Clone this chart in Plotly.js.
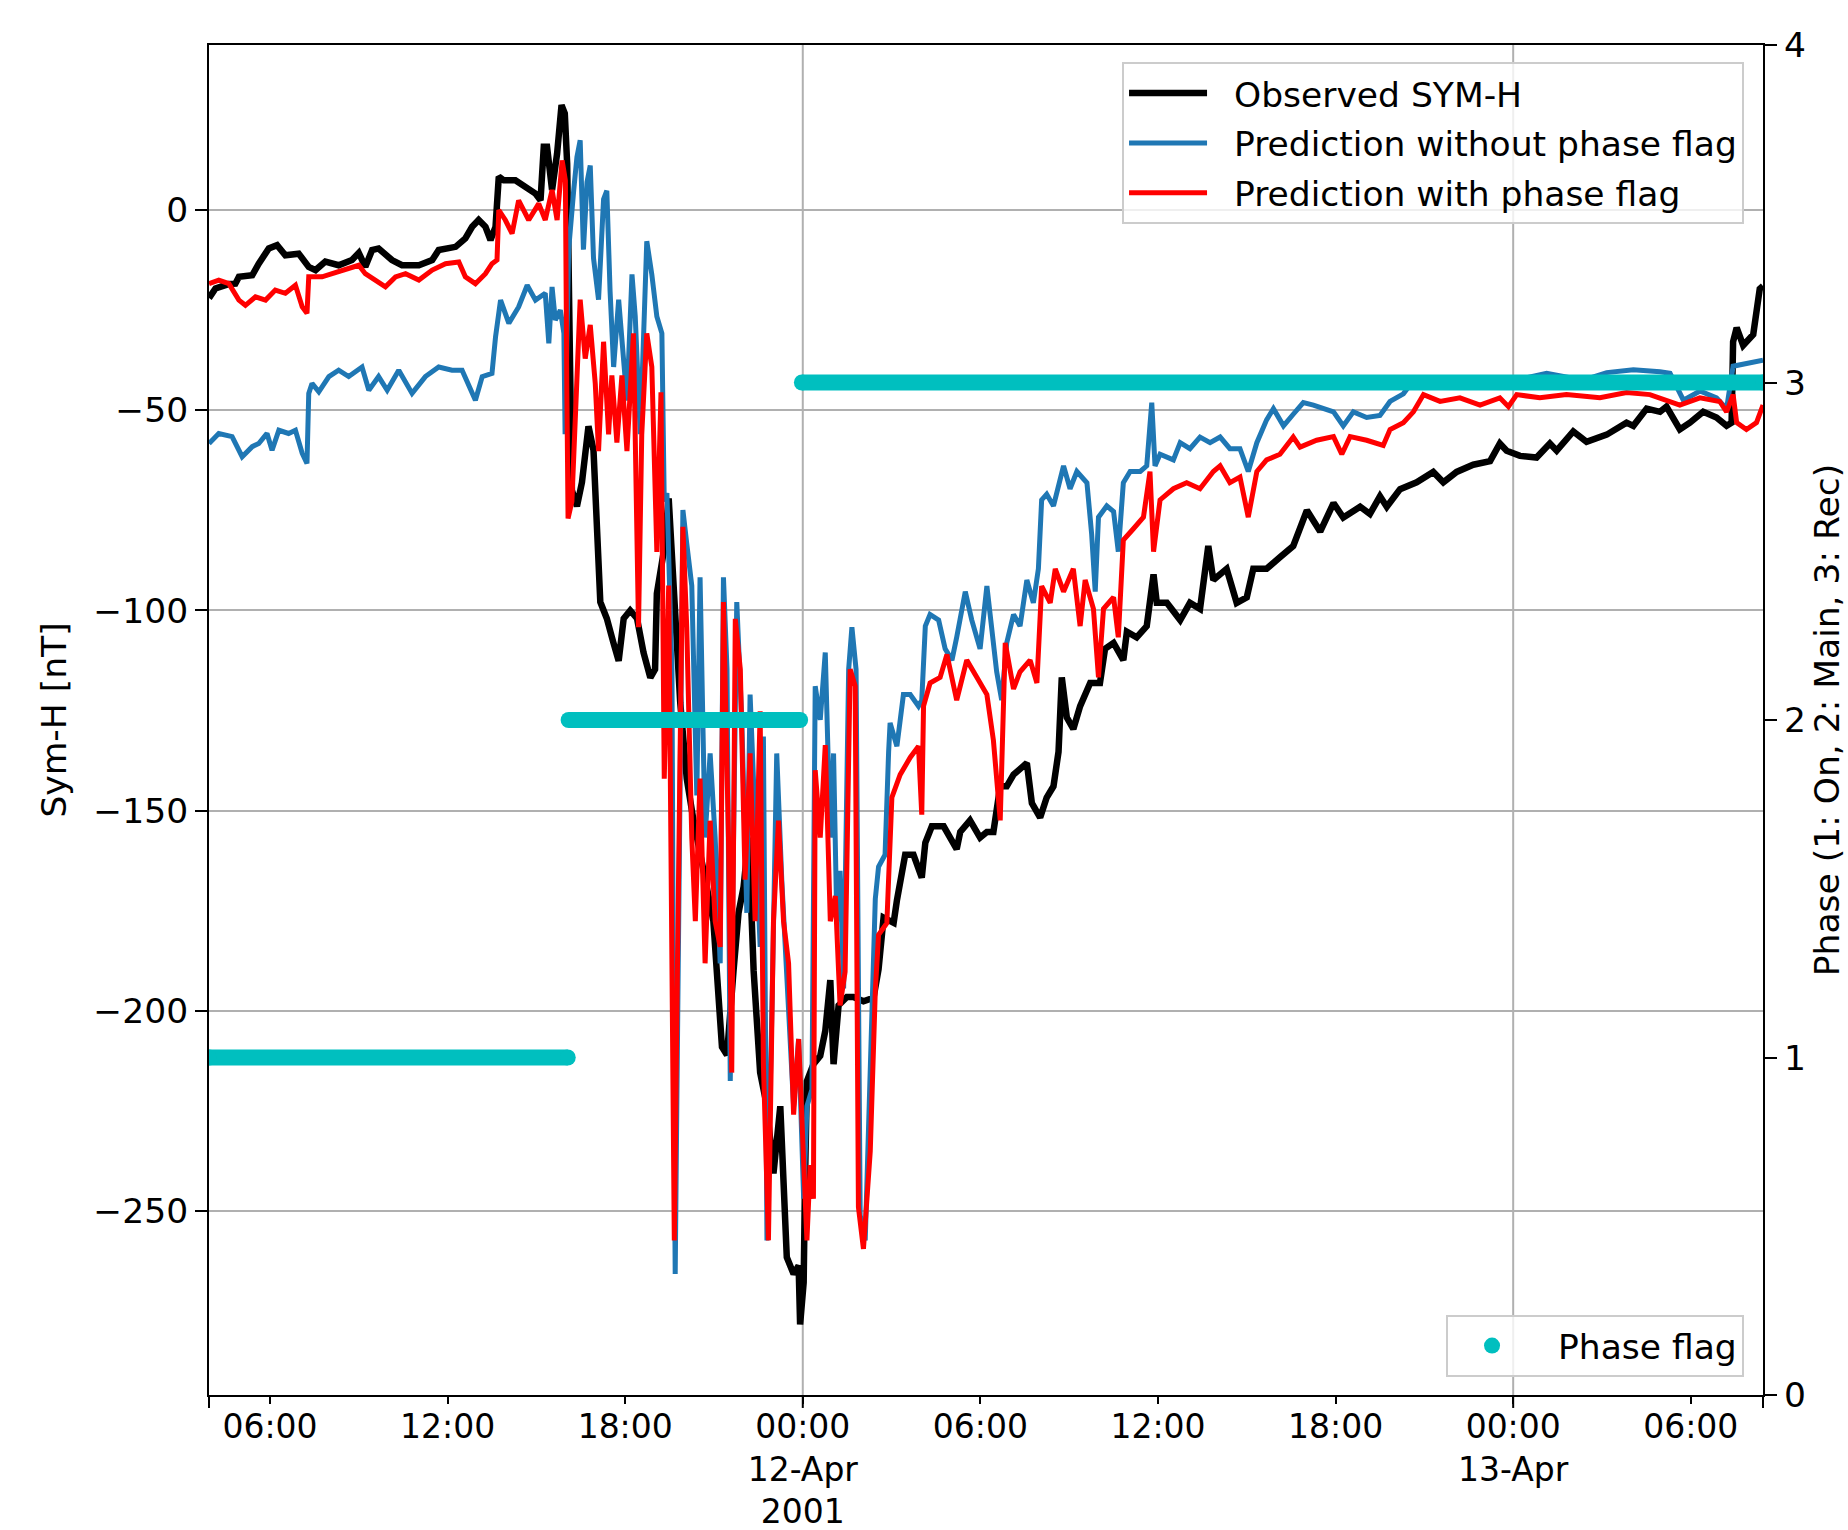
<!DOCTYPE html>
<html>
<head>
<meta charset="utf-8">
<script src="https://cdn.plot.ly/plotly-3.0.1.min.js"></script>
<style>html,body{margin:0;padding:0;background:#fff;}#chart{width:1848px;height:1530px;}</style>
</head>
<body>
<div id="chart"></div>
<script>
// ---- DATA (hours since 2001-04-11 00:00 UT, values in nT) ----
const obsHours = [3.94,4.0,4.16,4.6,4.83,4.95,5.4,5.62,5.96,6.24,6.52,6.97,7.31,7.54,7.87,8.32,8.77,9.0,9.22,9.45,9.67,10.12,10.46,11.03,11.48,11.7,12.27,12.6,12.83,13.05,13.28,13.45,13.62,13.73,13.9,14.29,14.63,14.97,15.14,15.25,15.36,15.53,15.7,15.85,15.96,16.04,16.12,16.2,16.37,16.54,16.76,16.93,17.16,17.38,17.6,17.78,17.95,18.17,18.4,18.62,18.85,19.01,19.07,19.3,19.47,19.63,19.86,20.08,20.31,20.65,20.98,21.27,21.44,21.66,21.83,22.0,22.17,22.34,22.56,22.79,23.01,23.24,23.46,23.69,23.86,23.91,24.03,24.08,24.14,24.36,24.59,24.76,24.93,25.04,25.21,25.49,25.71,26.05,26.39,26.56,26.73,27.07,27.18,27.46,27.74,28.02,28.14,28.36,28.76,29.2,29.32,29.65,29.99,30.22,30.44,30.67,30.89,31.12,31.57,31.74,32.02,32.24,32.47,32.64,32.75,32.92,33.14,33.37,33.71,34.04,34.21,34.5,34.83,34.95,35.28,35.62,35.85,35.96,36.3,36.75,37.08,37.42,37.7,37.87,38.1,38.32,38.66,39.0,39.22,39.67,40.12,40.57,41.03,41.48,41.93,42.26,42.83,43.16,43.5,43.73,44.18,44.74,45.3,45.64,46.09,46.65,47.22,47.55,47.78,48.23,48.79,49.24,49.47,50.03,50.48,51.16,51.83,52.06,52.51,52.96,53.18,53.63,53.97,54.42,54.87,55.21,55.38,55.43,55.55,55.77,56.11,56.33,56.44];
const obsValues = [-22,-21.5,-19.6,-18.5,-18.4,-16.7,-16.3,-13.4,-9.6,-8.8,-11.3,-10.9,-14.2,-15.0,-12.9,-13.8,-12.5,-10.7,-14.2,-10.0,-9.6,-12.5,-13.8,-13.8,-12.5,-10.0,-9.2,-7.1,-4.2,-2.5,-4.2,-7.5,-4.2,8.3,7.4,7.4,5.8,4.1,2.4,15.8,15.8,5.0,14.1,26.2,24.1,11.6,-30,-70,-74,-68,-54,-60,-97.9,-102,-108,-112.6,-102,-100,-102,-110.5,-116.8,-114.7,-95.8,-85.4,-72,-93.8,-123,-142,-152.5,-165,-177.6,-209,-211,-190,-175.5,-169,-156.7,-190,-215.4,-223.8,-240.6,-223.8,-261.5,-265.7,-263.6,-278.3,-267.8,-240.6,-217.5,-213.3,-211.2,-205,-192.3,-213.3,-198.6,-196.5,-196.5,-197.6,-196.7,-189.6,-176.7,-178,-172.4,-161,-161,-166.7,-158,-153.9,-153.9,-159.6,-155.3,-152.4,-156.7,-155.3,-155.3,-143.9,-143.9,-141,-138.1,-148.1,-151.7,-146.7,-143.9,-135.3,-116.7,-126.7,-129.6,-123.9,-118.1,-118.1,-109.6,-108.1,-112.4,-105.3,-106.7,-103.9,-91,-98.1,-98.1,-102.4,-98.1,-99.6,-83.9,-92.4,-91,-89.6,-98.1,-96.7,-89.6,-89.6,-86.7,-83.9,-75,-80.3,-73.2,-76.8,-74.1,-75.9,-71.5,-74.1,-69.7,-68,-65.4,-68,-65.4,-63.6,-62.7,-58.3,-60.1,-61.4,-61.8,-58.3,-60.1,-55.3,-57.9,-56.1,-53.1,-53.9,-49.6,-50.4,-49.1,-54.8,-53.1,-50.4,-51.8,-53.9,-53.1,-32.9,-29.4,-33.8,-31.1,-19.7,-19];

const noFlagHours = [3.94,4.27,4.72,5.06,5.4,5.62,5.9,6.07,6.3,6.63,6.86,7.09,7.25,7.31,7.42,7.65,7.99,8.32,8.66,9.11,9.34,9.67,9.96,10.35,10.8,11.25,11.7,12.15,12.49,12.72,12.94,13.17,13.5,13.62,13.79,14.07,14.4,14.69,14.97,15.3,15.42,15.53,15.64,15.81,15.93,15.97,16.09,16.26,16.37,16.48,16.59,16.71,16.82,16.93,17.1,17.27,17.38,17.49,17.61,17.78,17.89,18.06,18.23,18.34,18.51,18.73,18.9,19.07,19.24,19.32,19.41,19.58,19.63,19.69,19.75,19.86,19.95,20.08,20.25,20.42,20.53,20.7,20.87,21.04,21.21,21.32,21.44,21.55,21.66,21.77,21.94,22.11,22.22,22.39,22.56,22.67,22.79,22.96,23.12,23.29,23.46,23.69,23.86,24.03,24.14,24.31,24.42,24.59,24.76,24.93,25.04,25.15,25.26,25.38,25.55,25.66,25.8,25.94,26.11,26.28,26.45,26.56,26.78,26.9,26.95,27.18,27.4,27.63,27.91,28.02,28.14,28.3,28.59,28.81,29.04,29.2,29.49,29.71,29.99,30.22,30.39,30.55,30.72,30.89,31.12,31.34,31.57,31.79,31.96,32.07,32.24,32.47,32.81,33.03,33.26,33.6,33.76,33.88,33.99,34.27,34.5,34.66,34.83,35.06,35.4,35.62,35.79,35.9,36.07,36.52,36.75,37.08,37.42,37.76,38.1,38.43,38.77,39.05,39.34,39.67,39.9,40.24,40.57,40.91,41.25,41.93,42.26,42.6,43.05,43.5,43.84,44.29,44.63,45.3,46.43,47.55,49.13,50.37,51.16,52.06,52.96,53.3,53.75,54.31,54.87,55.21,55.43,55.88,56.44];
const noFlagValues = [-58.3,-55.8,-56.6,-61.6,-59.1,-58.3,-55.8,-60,-55,-55.8,-55,-60.8,-63.3,-45.8,-43.3,-45.4,-41.6,-40,-41.6,-39.2,-45,-41.6,-45,-40,-45.8,-41.6,-39.2,-40,-40,-44.1,-47.5,-41.6,-40.8,-31.7,-22.5,-28.3,-24.2,-18.8,-22.5,-20.8,-33.3,-19.2,-27.5,-25,-30.8,-56,-9.9,4.8,13.2,17.4,-9.9,6.9,11.1,-12,-22.4,2.7,4.8,-20.3,-39.2,-22.4,-32.9,-47.6,-16.1,-26.6,-56,-7.8,-16.1,-26.6,-30.8,-72.8,-70.7,-114.7,-198.6,-265.7,-219.6,-135.7,-74.9,-83.3,-93.8,-146.2,-91.7,-156.7,-135.7,-156.7,-188.1,-91.7,-114.7,-217.5,-156.7,-97.9,-127.3,-175.5,-121,-156.7,-184,-131.5,-257.3,-198.6,-135.7,-167.2,-190.2,-223.8,-207,-246.9,-223.8,-219.6,-118.9,-127.3,-110.5,-156.7,-135.7,-177.6,-165,-194.4,-114.7,-104.2,-114.7,-251,-257.3,-210,-172,-164,-161,-135.3,-128.1,-133.9,-121,-121,-123.9,-122.4,-103.9,-101,-102.4,-109.6,-112.4,-106.7,-95.3,-102.4,-109.6,-93.9,-103.9,-115.3,-122.4,-108.1,-101,-103.9,-92.4,-98.1,-89.6,-72.4,-71,-73.9,-63.9,-69.6,-65.3,-68.1,-81,-95.3,-76.7,-73.9,-75.3,-85.3,-68.1,-65.3,-65.3,-63.9,-48.1,-63.9,-61,-62.4,-58.1,-59.6,-56.7,-58.1,-56.7,-59.6,-59.6,-65.3,-58.1,-52.4,-49.6,-53.9,-51,-48.1,-48.7,-50.4,-53.9,-50.4,-51.8,-51.3,-47.8,-45.9,-42.5,-43.4,-43.9,-43.4,-40.8,-42.5,-40.6,-39.9,-40.4,-40.8,-47.5,-45.2,-46.9,-49.6,-39,-38.2,-37.5];

const flagHours = [3.94,4.27,4.61,4.95,5.17,5.51,5.85,6.18,6.52,6.86,7.09,7.25,7.31,7.76,8.1,8.55,9.0,9.22,9.56,9.9,10.24,10.58,11.03,11.48,11.93,12.38,12.6,12.94,13.28,13.5,13.67,13.73,13.95,14.18,14.4,14.74,15.08,15.3,15.53,15.7,15.87,15.98,16.03,16.07,16.2,16.37,16.48,16.65,16.82,16.99,17.1,17.27,17.44,17.55,17.72,17.89,18.06,18.28,18.45,18.56,18.73,18.9,19.07,19.21,19.32,19.47,19.58,19.66,19.75,19.84,19.95,20.08,20.25,20.37,20.53,20.7,20.87,21.04,21.21,21.32,21.49,21.6,21.72,21.89,22.05,22.22,22.39,22.56,22.67,22.84,23.01,23.18,23.35,23.52,23.69,23.86,24.03,24.14,24.25,24.36,24.42,24.59,24.76,24.93,25.1,25.26,25.43,25.6,25.77,25.88,26.05,26.28,26.45,26.56,26.84,27.01,27.29,27.63,27.91,28.02,28.08,28.3,28.64,28.87,29.2,29.54,29.88,30.22,30.44,30.67,30.84,31.12,31.34,31.68,31.91,32.07,32.36,32.53,32.81,33.14,33.37,33.54,33.82,33.99,34.16,34.5,34.66,34.83,35.17,35.51,35.73,35.85,36.07,36.52,36.97,37.42,37.87,38.1,38.43,38.77,39.05,39.34,39.67,40.12,40.57,40.8,41.36,41.93,42.21,42.49,43.05,43.61,43.84,44.29,44.63,44.97,45.53,46.2,46.88,47.55,47.84,48.12,48.9,49.8,50.93,51.83,52.62,53.63,54.31,54.98,55.21,55.43,55.55,55.88,56.22,56.44];
const flagValues = [-18.4,-17.5,-18.4,-22.5,-23.8,-21.7,-22.5,-20,-20.8,-18.8,-24.2,-25.8,-16.7,-16.7,-15.9,-15,-13.8,-15.9,-17.5,-19.2,-16.7,-15.9,-17.5,-15,-13.4,-13,-16.7,-18.4,-15.9,-13.4,-12.5,0,-2.5,-5.9,2.4,-2.5,1.6,-2.5,5,-2.5,12.4,7.4,-45,-77,-72.8,-41.3,-22.4,-37.1,-28.7,-43.4,-60.2,-32.9,-56,-41.3,-58.1,-41.3,-60.2,-30.8,-104.2,-56,-30.8,-39.2,-85.4,-45.5,-142,-93.8,-198.6,-257.3,-198.6,-135.7,-79.1,-104.2,-156.7,-177.6,-142,-188.1,-152.5,-177.6,-184,-97.9,-156.7,-215.4,-102.1,-114.7,-167.2,-135.7,-177.6,-125.2,-213.3,-257.3,-177.6,-152.5,-177.6,-188.1,-225.9,-207,-236.4,-257.3,-238.5,-246.9,-139.9,-156.7,-133.6,-177.6,-171.3,-198.6,-190.2,-114.7,-118.9,-249,-259.4,-235,-195,-181,-178.1,-146.7,-141,-136.7,-133.9,-151,-123.9,-118.1,-116.7,-111,-122.4,-112.4,-116.7,-121,-132.4,-152.4,-108.1,-119.6,-115.3,-112.4,-118.1,-93.9,-98.1,-89.6,-95.3,-89.6,-103.9,-92.4,-99.6,-116.7,-99.6,-96.7,-106.7,-82.4,-79.6,-76.7,-65.3,-85.3,-72.4,-69.6,-68.1,-69.6,-65.3,-63.9,-68.1,-66.7,-76.7,-65.3,-62.4,-61,-56.7,-59.2,-57.5,-56.6,-61,-56.6,-57.5,-58.8,-54.8,-53.1,-50.4,-46.1,-47.8,-46.9,-48.7,-46.9,-49.1,-46.1,-46.9,-46.1,-46.9,-45.6,-46.1,-48.7,-46.9,-47.8,-50.4,-46.1,-53.1,-54.8,-53.1,-48.7];

// storm phase flag: 1 onset, 2 main, 3 recovery
const phaseStartHours = [3.94, 16.09, 23.97];
const phaseEndHours   = [16.06, 23.91, 56.44];
const phaseValues     = [1, 2, 3];

// axis extents and ticks
const xRangeHours = [3.94, 56.44];
const symhRange = [-295.9, 41.2];
const phaseRange = [0, 4];
const symhTicks = [-250, -200, -150, -100, -50, 0];
const phaseTicks = [0, 1, 2, 3, 4];
const timeTickHours = [6, 12, 18, 24, 30, 36, 42, 48, 54];
const timeTickLabels = ['06:00', '12:00', '18:00', '00:00<br>12-Apr<br>2001', '06:00', '12:00', '18:00', '00:00<br>13-Apr', '06:00'];
const dayBoundaryHours = [24, 48];

// ---- helpers ----
const baseMs = Date.UTC(2001, 3, 11, 0, 0, 0);
function toDate(h) {
  const d = new Date(baseMs + Math.round(h * 3600) * 1000);
  return d.toISOString().slice(0, 19).replace('T', ' ');
}
const dates = arr => arr.map(toDate);

const phaseX = [], phaseY = [];
for (let i = 0; i < phaseValues.length; i++) {
  phaseX.push(toDate(phaseStartHours[i]), toDate(phaseEndHours[i]), null);
  phaseY.push(phaseValues[i], phaseValues[i], null);
}

const FONT = 'DejaVu Sans, Verdana, sans-serif';
const FS = 34.5;
const CYAN = '#00bfbf';
const GAP = '\u00A0\u00A0'; // visual gap between legend sample and label

const traces = [
  {x: dates(obsHours), y: obsValues, type: 'scatter', mode: 'lines', name: GAP + 'Observed SYM-H',
   line: {color: '#000000', width: 6.5}, yaxis: 'y', legend: 'legend', legendgroup: 'g1'},
  {x: dates(noFlagHours), y: noFlagValues, type: 'scatter', mode: 'lines', name: GAP + 'Prediction without phase flag',
   line: {color: '#1f77b4', width: 5}, yaxis: 'y', legend: 'legend', legendgroup: 'g2'},
  {x: dates(flagHours), y: flagValues, type: 'scatter', mode: 'lines', name: GAP + 'Prediction with phase flag',
   line: {color: '#ff0000', width: 5}, yaxis: 'y', legend: 'legend', legendgroup: 'g3'},
  {x: phaseX, y: phaseY, type: 'scatter', mode: 'lines', name: 'Phase flag band',
   line: {color: CYAN, width: 16}, yaxis: 'y2', showlegend: false, hoverinfo: 'skip'},
  {x: phaseX, y: phaseY, type: 'scatter', mode: 'markers', name: GAP + 'Phase flag',
   marker: {color: CYAN, size: 16}, yaxis: 'y2', legend: 'legend2'}
];

const shapes = [];
dayBoundaryHours.forEach(h => {
  shapes.push({type: 'line', xref: 'x', yref: 'paper', x0: toDate(h), x1: toDate(h), y0: 0, y1: 1,
               line: {color: '#b0b0b0', width: 2}, layer: 'below'});
  shapes.push({type: 'line', xref: 'x', yref: 'paper', x0: toDate(h), x1: toDate(h), y0: -0.0096, y1: 0,
               line: {color: '#000000', width: 2}, layer: 'above'});
});
[0, 1].forEach(px => {
  shapes.push({type: 'line', xref: 'paper', yref: 'paper', x0: px, x1: px, y0: -0.0096, y1: 0,
               line: {color: '#000000', width: 2}, layer: 'above'});
});

const layout = {
  width: 1848, height: 1530,
  margin: {l: 209, r: 85, t: 45, b: 135, pad: 0},
  paper_bgcolor: '#ffffff', plot_bgcolor: '#ffffff',
  font: {family: FONT, size: FS, color: '#000000'},
  showlegend: true,
  xaxis: {
    type: 'date', range: xRangeHours.map(toDate),
    tickmode: 'array', tickvals: timeTickHours.map(toDate), ticktext: timeTickLabels,
    ticks: 'outside', ticklen: 7, tickwidth: 2, tickcolor: '#000000',
    ticklabelstandoff: -6,
    showgrid: false, zeroline: false,
    showline: true, linecolor: '#000000', linewidth: 2, mirror: true,
    tickfont: {family: FONT, size: 33, color: '#000000'}
  },
  yaxis: {
    range: symhRange, tickmode: 'array', tickvals: symhTicks,
    ticks: 'outside', ticklen: 12, tickwidth: 2, tickcolor: '#000000',
    showgrid: true, gridcolor: '#b0b0b0', gridwidth: 2, zeroline: false,
    showline: true, linecolor: '#000000', linewidth: 2,
    tickfont: {family: FONT, size: FS, color: '#000000'},
    title: {text: 'Sym-H [nT]', standoff: 16, font: {family: FONT, size: FS, color: '#000000'}}
  },
  yaxis2: {
    overlaying: 'y', side: 'right', anchor: 'x',
    range: phaseRange, tickmode: 'array', tickvals: phaseTicks,
    ticks: 'outside', ticklen: 12, tickwidth: 2, tickcolor: '#000000',
    showgrid: false, zeroline: false,
    showline: true, linecolor: '#000000', linewidth: 2,
    tickfont: {family: FONT, size: FS, color: '#000000'},
    title: {text: 'Phase (1: On, 2: Main, 3: Rec)', standoff: 10, font: {family: FONT, size: FS, color: '#000000'}}
  },
  legend: {
    x: 0.9878, y: 0.9873, xanchor: 'right', yanchor: 'top',
    bgcolor: 'rgba(255,255,255,0.8)', bordercolor: '#cccccc', borderwidth: 2,
    itemwidth: 78, tracegroupgap: 2,
    font: {family: FONT, size: FS, color: '#000000'}
  },
  legend2: {
    x: 0.9878, y: 0.0136, xanchor: 'right', yanchor: 'bottom',
    bgcolor: 'rgba(255,255,255,0.8)', bordercolor: '#cccccc', borderwidth: 2,
    itemwidth: 78,
    font: {family: FONT, size: FS, color: '#000000'}
  },
  shapes: shapes
};

Plotly.newPlot('chart', traces, layout, {staticPlot: true, displayModeBar: false});
</script>
</body>
</html>
